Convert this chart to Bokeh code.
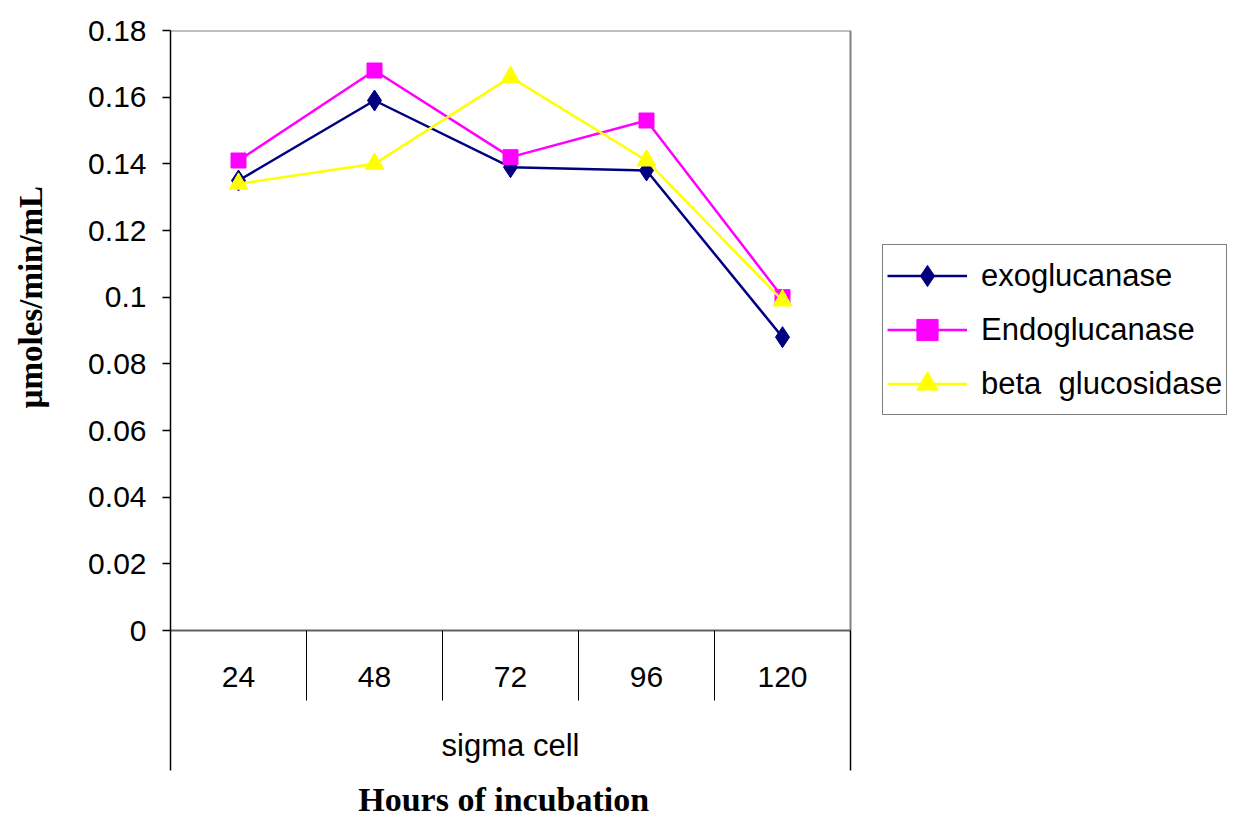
from bokeh.plotting import figure
from bokeh.layouts import row
from bokeh.models import Range1d, FixedTicker, Legend, LegendItem, NumeralTickFormatter
from bokeh.core.properties import value
from bokeh.embed import file_html
from bokeh.resources import INLINE
import math

# ---- data ----
hours = ["24", "48", "72", "96", "120"]
group_label = "sigma cell"
exoglucanase = [0.135, 0.159, 0.139, 0.138, 0.088]
endoglucanase = [0.141, 0.168, 0.142, 0.153, 0.100]
beta_glucosidase = [0.134, 0.140, 0.166, 0.141, 0.099]
y_ticks = [0, 0.02, 0.04, 0.06, 0.08, 0.10, 0.12, 0.14, 0.16, 0.18]
series_names = ["exoglucanase", "Endoglucanase", "beta  glucosidase"]
y_title = "µmoles/min/mL"
x_title = "Hours of incubation"

# ---- styling constants ----
SANS = "Liberation Sans"
SERIF = "Liberation Serif"
n = len(hours)
xs = [i + 0.5 for i in range(n)]
ymax = y_ticks[-1]
Y_BOTTOM = -0.0561
CAT_LABEL_Y = -0.0138
DIVIDER_Y = -0.021
OUTER_Y = -0.042
GROUP_Y = -0.0345
XTITLE_Y = -0.0508
X_END = 1063 / 136.0   # frame extends to the right edge so the legend fits inside

LEFT_W = 60
yr = Range1d(Y_BOTTOM, ymax)

# left strip holding the vertical y title
pl = figure(width=LEFT_W, height=817, x_range=Range1d(0, 1), y_range=yr,
            output_backend="svg", toolbar_location=None, x_axis_location=None,
            y_axis_location=None, min_border_left=0, min_border_right=0,
            min_border_top=30, min_border_bottom=0)
pl.outline_line_color = None
pl.xgrid.visible = False
pl.ygrid.visible = False
pl.text(x=[0.5], y=[0.1], text=[y_title], angle=math.pi / 2, text_font=value(SERIF),
        text_font_size="33px", text_font_style="bold", text_align="center",
        text_baseline="middle", text_color="black")

p = figure(width=1233 - LEFT_W, height=817, x_range=Range1d(0, X_END), y_range=yr,
           output_backend="svg", toolbar_location=None, x_axis_location=None,
           min_border_left=170 - LEFT_W, min_border_right=0, min_border_top=30, min_border_bottom=0)
p.outline_line_color = None
p.xgrid.visible = False
p.ygrid.visible = False

ax = p.yaxis[0]
ax.ticker = FixedTicker(ticks=y_ticks)
ax.bounds = (OUTER_Y, ymax)
ax.formatter = NumeralTickFormatter(format="0.[00]")
ax.axis_line_color = "black"
ax.axis_line_width = 1.5
ax.major_tick_line_color = "black"
ax.major_tick_line_width = 1.5
ax.major_tick_out = 8
ax.major_tick_in = 0
ax.minor_tick_line_color = None
ax.major_label_standoff = 16
ax.major_label_text_font = SANS
ax.major_label_text_font_size = "30px"
ax.major_label_text_color = "black"

# frame border (grey), zero line, category dividers
p.segment(x0=[0, n], y0=[ymax, 0], x1=[n, n], y1=[ymax, ymax], color="#808080", line_width=2)
p.segment(x0=[0], y0=[0], x1=[n], y1=[0], color="#606060", line_width=2)
p.segment(x0=list(range(1, n)), y0=[0] * (n - 1), x1=list(range(1, n)), y1=[DIVIDER_Y] * (n - 1),
          color="black", line_width=1)
p.segment(x0=[n], y0=[0], x1=[n], y1=[OUTER_Y], color="black", line_width=1.5)

# category labels
p.text(x=xs, y=[CAT_LABEL_Y] * n, text=hours, text_font=value(SANS), text_font_size="30px",
       text_align="center", text_baseline="middle", text_color="black")
p.text(x=[n / 2], y=[GROUP_Y], text=[group_label], text_font=value(SANS), text_font_size="31px",
       text_align="center", text_baseline="middle", text_color="black")
p.text(x=[n / 2 - 0.05], y=[XTITLE_Y], text=[x_title], text_font=value(SERIF),
       text_font_size="34px", text_font_style="bold", text_align="center", text_baseline="middle",
       text_color="black")

# series
specs = [
    (exoglucanase, "#000080", "diamond", 21),
    (endoglucanase, "#FF00FF", "square", 15),
    (beta_glucosidase, "#FFFF00", "triangle", 19),
]
items = []
for name, (vals, col, mk, sz) in zip(series_names, specs):
    l = p.line(xs, vals, line_color=col, line_width=2.5)
    s = p.scatter(xs, vals, marker=mk, size=sz, fill_color=col, line_color=col)
    items.append(LegendItem(label=name, renderers=[l, s]))

legend = Legend(items=items, location=(712, 402), border_line_color="black", border_line_width=1,
                label_text_font=SANS, label_text_font_size="31px", label_text_color="black",
                glyph_width=80, glyph_height=53, label_height=53, spacing=1, padding=4, margin=0,
                label_standoff=14, background_fill_color="white", background_fill_alpha=1)
p.add_layout(legend)

layout = row(pl, p, spacing=0)
open("out.html", "w").write(file_html(layout, INLINE))
